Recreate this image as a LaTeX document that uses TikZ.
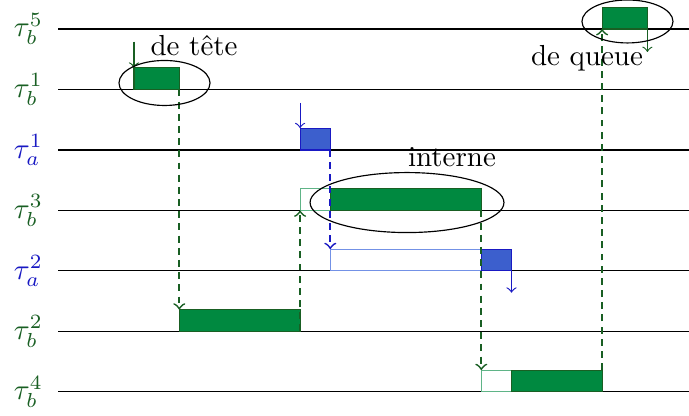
\documentclass[tikz,border=0pt]{standalone}
\usepackage{xcolor}
\usetikzlibrary{positioning}
\definecolor{vertT}{RGB}{0,137,64}
\definecolor{vertF}{RGB}{25,95,35}
\definecolor{vertC}{RGB}{95,180,135}
\definecolor{bleuT}{RGB}{60,95,205}
\definecolor{bleuF}{RGB}{25,25,195}
\definecolor{bleuC}{RGB}{115,145,230}

\begin{document}
\begin{tikzpicture}[x=0.366cm, y=0.733cm,
    tb/.style={fill=vertT, draw=vertF},
    ta/.style={fill=bleuT, draw=bleuF},
    tbv/.style={draw=vertC},
    tav/.style={draw=bleuC},
    flb/.style={->, vertF},
    fla/.style={->, bleuF},
    pointille/.style={semithick, dash pattern=on 2.4pt off 1.8pt}]

  \useasboundingbox (-4.437,-0.397) rectangle (18.377,6.479);

  % Lignes des taches
  \foreach \y/\lab/\col in {6/b^5/vertF, 5/b^1/vertF, 4/a^1/bleuF, 3/b^3/vertF,
                            2/a^2/bleuF, 1/b^2/vertF, 0/b^4/vertF} {
    \draw (-2.5,\y) -- (18.377,\y);
    \node[text=\col, inner sep=0pt] (t\y) at (-3.5,\y) {$\tau_\lab$};
  }

  % Blocs
  \draw[tb] (0,5) rectangle (1.5,5.36);
  \draw[ta] (5.5,4) rectangle (6.5,4.36);
  \draw[tbv] (5.5,3) rectangle (6.5,3.36);
  \draw[tb] (6.5,3) rectangle (11.5,3.36);
  \draw[tav] (6.5,2) rectangle (11.5,2.36);
  \draw[ta] (11.5,2) rectangle (12.5,2.36);
  \draw[tb] (1.5,1) rectangle (5.5,1.36);
  \draw[tbv] (11.5,0) rectangle (12.5,0.36);
  \draw[tb] (12.5,0) rectangle (15.5,0.36);
  \draw[tb] (15.5,6) rectangle (17,6.36);

  % Points d'attache
  \coordinate (b1a) at (0,5.79);
  \coordinate (b1d) at (0,5.36);
  \coordinate (b1f) at (1.5,5);
  \coordinate (b2d) at (1.5,1.36);
  \coordinate (b2f) at (5.5,1);
  \coordinate (b3d) at (5.5,3);
  \coordinate (a1a) at (5.5,4.78);
  \coordinate (a1d) at (5.5,4.36);
  \coordinate (a1f) at (6.5,4);
  \coordinate (a2d) at (6.5,2.36);
  \coordinate (b3f) at (11.5,3);
  \coordinate (b4d) at (11.5,0.36);
  \coordinate (a2f) at (12.5,2);
  \coordinate (a2s) at (12.5,1.64);
  \coordinate (b4f) at (15.5,0.36);
  \coordinate (b5d) at (15.5,6);
  \coordinate (b5f) at (17,6);
  \coordinate (b5s) at (17,5.62);

  % Fleches
  \draw[flb] (b1a) -- (b1d);
  \draw[flb, pointille] (b1f) -- (b2d);
  \draw[fla] (a1a) -- (a1d);
  \draw[flb, pointille] (b2f) -- (b3d);
  \draw[fla, pointille] (a1f) -- (a2d);
  \draw[flb, pointille] (b3f) -- (b4d);
  \draw[fla] (a2f) -- (a2s);
  \draw[flb, pointille] (b4f) -- (b5d);
  \draw[flb] (b5f) -- (b5s);

  % Ellipses
  \draw (1.01,5.107) ellipse [x radius=1.507, y radius=0.372];
  \draw (9.04,3.13) ellipse [x radius=3.21, y radius=0.496];
  \draw (16.34,6.124) ellipse [x radius=1.507, y radius=0.355];

  \node (tete) at (1.99,5.73) {de tête};
  \node (interne) at (10.53,3.876) {interne};
  \node (queue) at (15.0,5.52) {de queue};

\end{tikzpicture}
\end{document}
